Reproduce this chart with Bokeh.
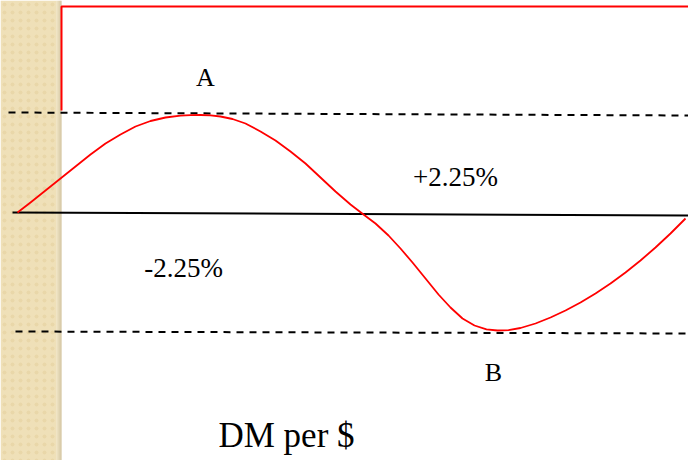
from bokeh.plotting import figure
from bokeh.models import Range1d
from bokeh.core.properties import value
from bokeh.embed import file_html
from bokeh.resources import INLINE

# Diagram data (horizontal position, vertical level; level axis points downward)
curve_x = [17, 30, 45, 60, 75, 90, 105, 120, 135, 150, 165, 180, 190, 200, 210, 220, 232, 245,
           260, 275, 290, 305, 320, 335, 350, 363, 375, 388, 400, 412, 425, 438, 450, 462,
           474, 486, 497, 508, 520, 535, 550, 565, 580, 595, 610, 625, 640, 655, 670, 685]
curve_y = [212, 202, 190, 178, 166, 154, 143, 134, 126, 120.5, 117, 115.2, 114.6, 114.5, 114.9,
           116, 118.5, 123, 131, 140, 151, 163, 177, 191, 204, 214, 223, 235, 248, 262, 278,
           294, 307, 318, 325, 328.8, 330, 329.6, 327.5, 323, 317, 310, 302, 293, 283, 272,
           260, 247, 233, 218]

central_x = [12, 688]
central_y = [212, 215]
upper_x = [8, 688]
upper_y = [112, 115]
lower_x = [15, 688]
lower_y = [331, 333]
frame_x = [61, 61, 690]
frame_y = [110, 6, 6]

point_labels = ["A", "B"]
point_x = [205, 493]
point_y = [77, 372]
band_labels = ["+2.25%", "-2.25%"]
band_x = [455, 183]
band_y = [176, 267]
title_text = "DM per $"
title_x = [286]
title_y = [435]

W, H = 688, 460
p = figure(width=W, height=H, output_backend="svg", toolbar_location=None,
           x_range=Range1d(0, W), y_range=Range1d(H, 0),
           min_border=0, min_border_left=0, min_border_right=0,
           min_border_top=0, min_border_bottom=0)
p.axis.visible = False
p.xgrid.visible = False
p.ygrid.visible = False
p.outline_line_color = None
p.background_fill_color = "white"
p.border_fill_color = "white"

# beige textured side strip
p.quad(left=0, right=56, bottom=0, top=470, fill_color="#efe0b8", line_color=None)
p.quad(left=0, right=56, bottom=0, top=470, fill_color=None, line_color=None,
       hatch_pattern="dot", hatch_color="#e4d09e", hatch_scale=8, hatch_weight=3, hatch_alpha=0.6)
shades = ["#e9d9b0", "#e2d1a6", "#dac99c", "#d2c093", "#cbb98c"]
for i, c in enumerate(shades):
    p.quad(left=56 + i, right=57 + i, bottom=0, top=470, fill_color=c, line_color=None)

# red frame
p.line(frame_x, frame_y, line_color="#ff0000", line_width=2)

# reference lines
p.line(upper_x, upper_y, line_color="black", line_width=2, line_dash="7 6")
p.line(lower_x, lower_y, line_color="black", line_width=2, line_dash="7 6")
p.line(central_x, central_y, line_color="black", line_width=2)

# rate path
p.line(curve_x, curve_y, line_color="#ff0000", line_width=1.8, line_join="round")

font = value("Liberation Serif")
p.text(x=point_x, y=point_y, text=point_labels,
       text_font=font, text_font_size="26px", text_align="center",
       text_baseline="alphabetic", text_color="black")
p.text(x=band_x, y=band_y, text=band_labels,
       text_font=font, text_font_size="27px", text_align="center",
       text_baseline="alphabetic", text_color="black")
p.text(x=title_x, y=title_y, text=[title_text], text_font=font, text_font_size="35px",
       text_align="center", text_baseline="alphabetic", text_color="black")

open("out.html", "w").write(file_html(p, INLINE))
